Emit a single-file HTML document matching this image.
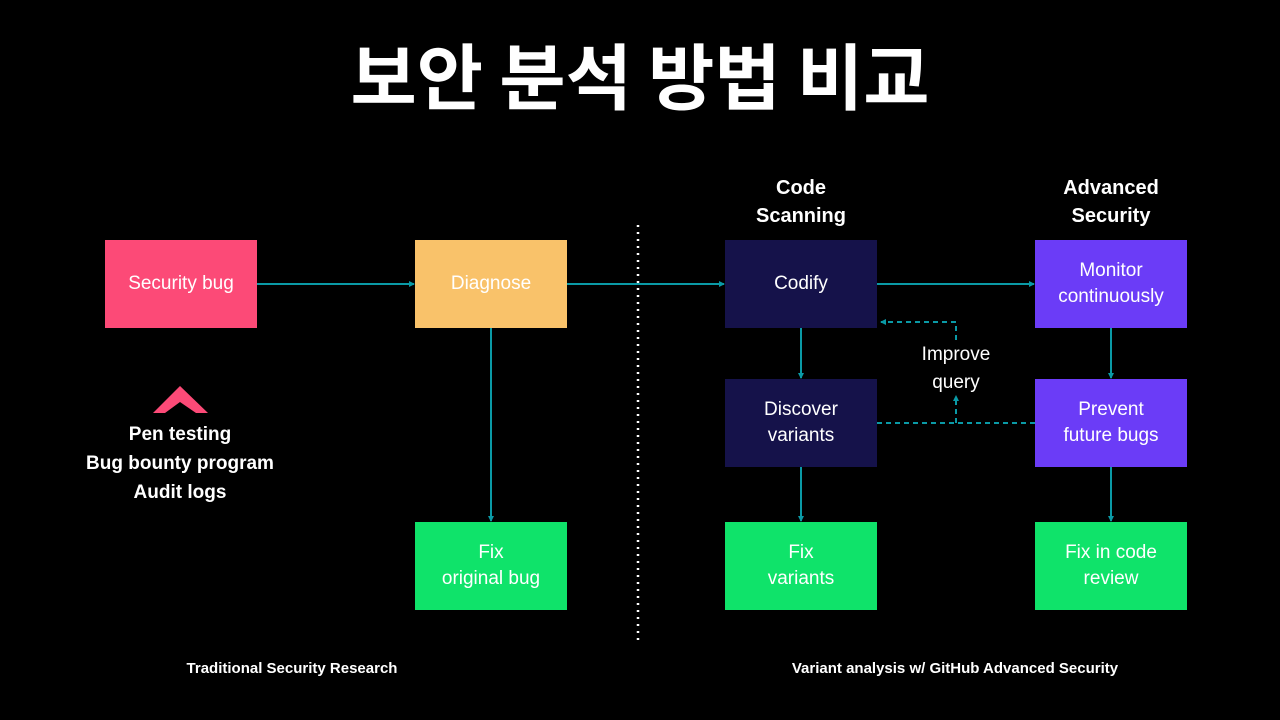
<!DOCTYPE html>
<html><head><meta charset="utf-8"><style>
body{margin:0;width:1280px;height:720px;background:#000;overflow:hidden;position:relative;font-family:"Liberation Sans","Noto Sans CJK KR",sans-serif;color:#fff}
.t{position:absolute;left:0;width:1280px;top:28px;text-align:center;font-size:72px;font-weight:bold;font-family:"Noto Sans CJK KR","Liberation Sans",sans-serif;line-height:90px}
.b{position:absolute;width:152px;height:88px;display:flex;align-items:center;justify-content:center;text-align:center;font-size:19px;line-height:26px}
.l{position:absolute;text-align:center;font-size:19px;line-height:28px}
.s{position:absolute;font-size:15px;font-weight:bold;text-align:center}
</style></head><body>
<div class="t">보안 분석 방법 비교</div>
<svg width="1280" height="720" style="position:absolute;left:0;top:0">
<defs><marker id="a" markerWidth="6" markerHeight="6" refX="5" refY="3" orient="auto" markerUnits="userSpaceOnUse"><path d="M0,0 L6,3 L0,6z" fill="#0a9aa6"/></marker></defs>
<g stroke="#0a9aa6" stroke-width="2" fill="none">
<line x1="257" y1="284" x2="414" y2="284" marker-end="url(#a)"/>
<line x1="567" y1="284" x2="724" y2="284" marker-end="url(#a)"/>
<line x1="877" y1="284" x2="1034" y2="284" marker-end="url(#a)"/>
<line x1="491" y1="328" x2="491" y2="521" marker-end="url(#a)"/>
<line x1="801" y1="328" x2="801" y2="378" marker-end="url(#a)"/>
<line x1="801" y1="467" x2="801" y2="521" marker-end="url(#a)"/>
<line x1="1111" y1="328" x2="1111" y2="378" marker-end="url(#a)"/>
<line x1="1111" y1="467" x2="1111" y2="521" marker-end="url(#a)"/>
<g stroke-dasharray="5,4">
<line x1="877" y1="423" x2="1035" y2="423"/>
<line x1="956" y1="423" x2="956" y2="396" marker-end="url(#a)"/>
<polyline points="956,340 956,322 881,322" marker-end="url(#a)"/>
</g></g>
<line x1="638" y1="225" x2="638" y2="642" stroke="#fff" stroke-width="2.5" stroke-dasharray="2,5"/>
<polygon points="153,413 180,386 208,413 196,413 180,402 165,413" fill="#fc4a77"/>
</svg>
<div class="b" style="left:105px;top:240px;background:#fc4a77">Security bug</div>
<div class="b" style="left:415px;top:240px;background:#f9c26a">Diagnose</div>
<div class="b" style="left:725px;top:240px;background:#15124a">Codify</div>
<div class="b" style="left:1035px;top:240px;background:#6b3cf7">Monitor<br>continuously</div>
<div class="b" style="left:725px;top:379px;background:#15124a">Discover<br>variants</div>
<div class="b" style="left:1035px;top:379px;background:#6b3cf7">Prevent<br>future bugs</div>
<div class="b" style="left:415px;top:522px;background:#0fe36a">Fix<br>original bug</div>
<div class="b" style="left:725px;top:522px;background:#0fe36a">Fix<br>variants</div>
<div class="b" style="left:1035px;top:522px;background:#0fe36a">Fix in code<br>review</div>
<div class="l" style="left:706px;width:190px;top:174px;font-weight:bold;font-size:20px">Code<br>Scanning</div>
<div class="l" style="left:1016px;width:190px;top:174px;font-weight:bold;font-size:20px">Advanced<br>Security</div>
<div class="l" style="left:896px;width:120px;top:341px">Improve<br>query</div>
<div class="l" style="left:60px;width:240px;top:420px;font-weight:bold;line-height:29px">Pen testing<br>Bug bounty program<br>Audit logs</div>
<div class="s" style="left:142px;width:300px;top:660px">Traditional Security Research</div>
<div class="s" style="left:755px;width:400px;top:660px">Variant analysis w/ GitHub Advanced Security</div>
</body></html>
